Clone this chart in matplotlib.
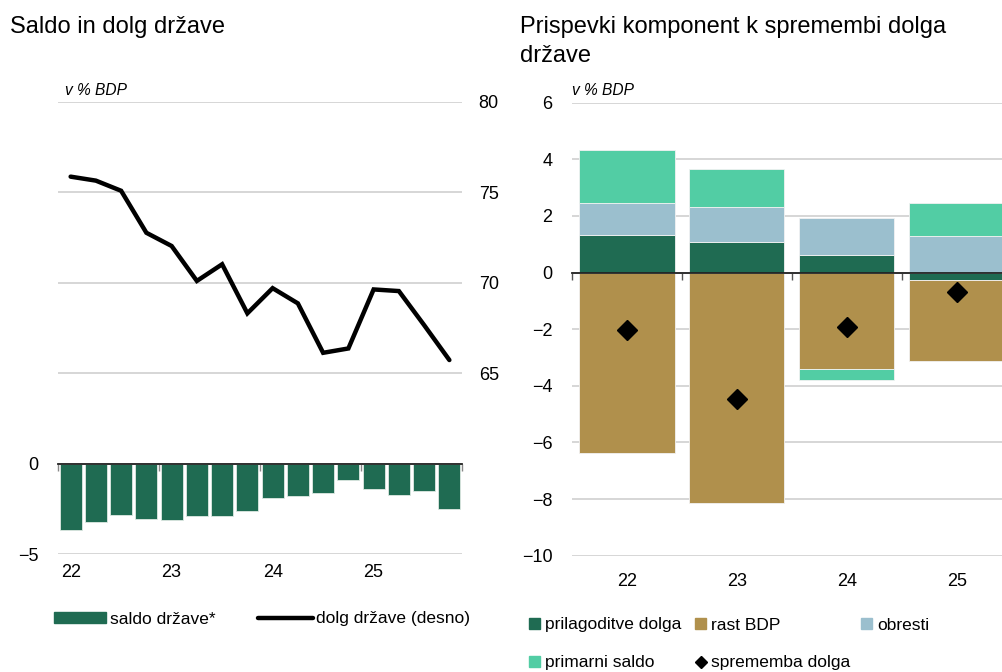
import numpy as np
import matplotlib.pyplot as plt
import matplotlib.transforms as mtransforms
from matplotlib.patches import Patch
from matplotlib.lines import Line2D

plt.rcParams['font.family'] = ['Liberation Sans', 'DejaVu Sans']

# Left chart: quarterly data, 2022Q1 - 2025Q4
quarters = np.arange(16)
year_labels = ['22', '23', '24', '25']
saldo = [-3.65, -3.19, -2.82, -3.04, -3.13, -2.87, -2.87, -2.59,
         -1.87, -1.80, -1.63, -0.87, -1.41, -1.70, -1.48, -2.50]
dolg = [75.86, 75.64, 75.08, 72.76, 72.03, 70.10, 71.02, 68.31,
        69.70, 68.86, 66.13, 66.37, 69.63, 69.54, 67.66, 65.73]

# Right chart: yearly contributions to change in debt
years = ['22', '23', '24', '25']
prilagoditve = [1.31, 1.07, 0.63, -0.26]
rast_bdp = [-6.36, -8.13, -3.41, -2.88]
obresti = [1.14, 1.24, 1.29, 1.30]
primarni = [1.88, 1.34, -0.40, 1.17]
sprememba = [-2.02, -4.48, -1.91, -0.67]

GREEN = '#1f6b52'
GOLD = '#b0904c'
BLUE = '#9bbfce'
MINT = '#52cda4'
GRID = '#d3d3d3'
FS = 12.5      # legend text
TFS = 13       # tick labels
W, H = 1003, 672

fig = plt.figure(figsize=(W / 100, H / 100), dpi=100)


def fx(px):
    return px / W


def fy(px):
    return 1 - px / H


# ---------------- left chart ----------------
ax1 = fig.add_axes([fx(58), fy(554.3), fx(404), 452.6 / H])
ax1.bar(quarters, saldo, width=0.87, color=GREEN, edgecolor='#dfe9e3',
        linewidth=0.6, zorder=2)
ax1.set_xlim(-0.5, 15.5)
ax1.set_ylim(-5, 20)
ax1.set_yticks([-5, 0])
ax1.yaxis.grid(True, color=GRID, lw=1.3)
ax1.set_axisbelow(True)
for s in ['top', 'left', 'right']:
    ax1.spines[s].set_visible(False)
ax1.spines['bottom'].set_position(('data', 0))
ax1.spines['bottom'].set_color('#222222')
ax1.spines['bottom'].set_linewidth(1.3)
ax1.spines['bottom'].set_zorder(4)
ax1.set_xticks([-0.5, 3.5, 7.5, 11.5, 15.5])
ax1.tick_params(axis='x', length=5, width=1, color='#888888', labelbottom=False)
ax1.tick_params(axis='y', length=0, pad=14, labelsize=TFS)
tr1 = mtransforms.blended_transform_factory(ax1.transData, ax1.transAxes)
for i, lab in zip(quarters[::4], year_labels):
    ax1.text(i, -0.041, lab, transform=tr1, ha='center', va='center', fontsize=TFS)

ax2 = ax1.twinx()
ax2.set_ylim(55, 80)
ax2.set_yticks([65, 70, 75, 80])
ax2.yaxis.grid(True, color=GRID, lw=1.3)
ax2.set_axisbelow(True)
for s in ax2.spines.values():
    s.set_visible(False)
ax2.tick_params(axis='y', length=0, pad=12, labelsize=TFS)
ax2.plot(quarters, dolg, color='black', lw=3.2, solid_capstyle='round',
         solid_joinstyle='miter', zorder=3)

# ---------------- right chart ----------------
ax3 = fig.add_axes([fx(572), fy(555.7), fx(439.7), 453 / H])
x = np.arange(len(years))
pos = np.zeros(len(years))
neg = np.zeros(len(years))
for vals, col in [(prilagoditve, GREEN), (rast_bdp, GOLD),
                  (obresti, BLUE), (primarni, MINT)]:
    v = np.array(vals)
    base = np.where(v >= 0, pos, neg)
    ax3.bar(x, v, bottom=base, width=0.865, color=col, edgecolor='#f2f2f2',
            linewidth=0.6, zorder=2)
    pos = pos + np.where(v >= 0, v, 0)
    neg = neg + np.where(v < 0, v, 0)
ax3.plot(x, sprememba, ls='none', marker='D', ms=10, color='black', zorder=5)
ax3.set_xlim(-0.5, 3.5)
ax3.set_ylim(-10, 6)
ax3.set_yticks(range(-10, 7, 2))
ax3.yaxis.grid(True, color=GRID, lw=1.3)
ax3.set_axisbelow(True)
for s in ['top', 'left', 'right']:
    ax3.spines[s].set_visible(False)
ax3.spines['bottom'].set_position(('data', 0))
ax3.spines['bottom'].set_color('#222222')
ax3.spines['bottom'].set_linewidth(1.3)
ax3.spines['bottom'].set_zorder(4)
ax3.set_xticks([-0.5, 0.5, 1.5, 2.5, 3.5])
ax3.tick_params(axis='x', length=5, width=1, color='#555555', labelbottom=False)
ax3.tick_params(axis='y', length=0, pad=14, labelsize=TFS)
tr3 = mtransforms.blended_transform_factory(ax3.transData, ax3.transAxes)
for i, lab in zip(x, years):
    ax3.text(i, -0.057, lab, transform=tr3, ha='center', va='center', fontsize=TFS)

# ---------------- titles ----------------
fig.text(fx(10), fy(33), 'Saldo in dolg države', fontsize=17, va='baseline')
fig.text(fx(520), fy(33), 'Prispevki komponent k spremembi dolga', fontsize=17,
         va='baseline')
fig.text(fx(520), fy(62), 'države', fontsize=17, va='baseline')
fig.text(fx(65), fy(95), 'v % BDP', fontsize=11.2, style='italic', va='baseline')
fig.text(fx(572), fy(95), 'v % BDP', fontsize=11.2, style='italic', va='baseline')

# ---------------- legends ----------------
fpx = FS * 100 / 72


def add_key(handle, label, x_px, y_px, hl_px, gap_px, hh_px=11):
    fig.legend(handles=[handle], labels=[label], loc='center left',
               bbox_to_anchor=(fx(x_px), fy(y_px)), frameon=False,
               borderpad=0, borderaxespad=0, fontsize=FS,
               handlelength=hl_px / fpx, handleheight=hh_px / fpx,
               handletextpad=gap_px / fpx)


add_key(Patch(color=GREEN), 'saldo države*', 54, 619, 52, 4)
add_key(Line2D([], [], color='black', lw=3.2, solid_capstyle='round'),
        'dolg države (desno)', 258, 619, 55, 3)
add_key(Patch(color=GREEN), 'prilagoditve dolga', 529, 625, 11, 5)
add_key(Patch(color=GOLD), 'rast BDP', 695, 625, 11, 5)
add_key(Patch(color=BLUE), 'obresti', 861, 625, 11, 5)
add_key(Patch(color=MINT), 'primarni saldo', 529, 663, 11, 5)
add_key(Line2D([], [], ls='none', marker='D', ms=6, color='black'),
        'sprememba dolga', 695, 663, 11, 5)

fig.savefig('out.png', dpi=100)
